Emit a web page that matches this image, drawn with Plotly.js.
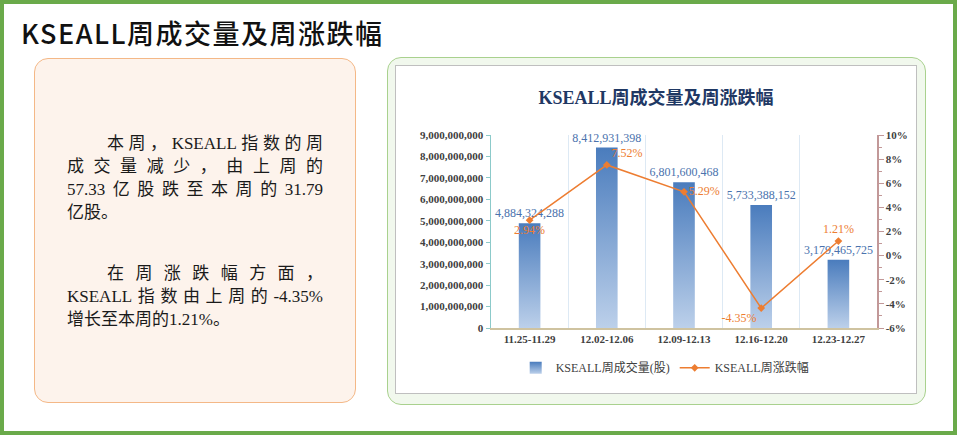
<!DOCTYPE html>
<html>
<head>
<meta charset="utf-8">
<script src="https://cdn.plot.ly/plotly-3.0.1.min.js"></script>
<style>
  html, body { margin: 0; padding: 0; background: #ffffff; }
  body { width: 960px; height: 437px; position: relative; overflow: hidden; }
  #frame { position: absolute; left: 0; top: 0; width: 957px; height: 435px; box-sizing: border-box; border: 4px solid #6aaa4a; }
  #mainTitle { position: absolute; left: 21px; top: 16px; font-family: "Noto Sans CJK SC", sans-serif; font-size: 27px; font-weight: 500; color: #111; line-height: 34px; letter-spacing: 1.5px; white-space: nowrap; }
  #leftPanel { position: absolute; left: 34px; top: 58px; width: 322px; height: 345px; box-sizing: border-box; border: 1.5px solid #f4b887; border-radius: 14px; background: #fdf3ec; }
  .para { position: absolute; left: 32px; width: 256px; font-family: "Liberation Serif", "Noto Sans CJK SC", serif; font-size: 17px; color: #1a1a1a; line-height: 23px; }
  .ln { white-space: nowrap; text-align: justify; text-align-last: justify; }
  .ln.last { text-align-last: left; }
  .ln.ind { padding-left: 40px; }
  #rightPanel { position: absolute; left: 387px; top: 57px; width: 539px; height: 348px; box-sizing: border-box; border: 1.5px solid #a9d18e; border-radius: 14px; background: #f1f8ed; }
  #chartBox { position: absolute; left: 395px; top: 65px; width: 522px; height: 329px; box-sizing: border-box; border: 1px solid #bfbfbf; background: #ffffff; }
  #chart { position: absolute; left: 0; top: 0; width: 520px; height: 327px; }
</style>
</head>
<body>
<div id="frame"></div>
<div id="mainTitle">KSEALL周成交量及周涨跌幅</div>
<div id="leftPanel">
  <div class="para" style="top:73px;">
    <div class="ln ind">本周，KSEALL指数的周</div>
    <div class="ln">成交量减少，由上周的</div>
    <div class="ln">57.33亿股跌至本周的31.79</div>
    <div class="ln last">亿股。</div>
  </div>
  <div class="para" style="top:203px;">
    <div class="ln ind">在周涨跌幅方面，</div>
    <div class="ln">KSEALL指数由上周的-4.35%</div>
    <div class="ln last">增长至本周的1.21%。</div>
  </div>
</div>
<div id="rightPanel"></div>
<div id="chartBox"><div id="chart"></div></div>
<script>
// ---- data ----
const weeks = ["11.25-11.29", "12.02-12.06", "12.09-12.13", "12.16-12.20", "12.23-12.27"];
const volume = [4884324288, 8412931398, 6801600468, 5733388152, 3179465725];
const changePct = [2.94, 7.52, 5.29, -4.35, 1.21];
const volumeName = "KSEALL周成交量(股)";
const changeName = "KSEALL周涨跌幅";
const chartTitle = "KSEALL周成交量及周涨跌幅";
const leftTicks = [0, 1e9, 2e9, 3e9, 4e9, 5e9, 6e9, 7e9, 8e9, 9e9];
const rightTicks = [-6, -4, -2, 0, 2, 4, 6, 8, 10];
const rightTickText = ["-6%", "-4%", "-2%", "0%", "2%", "4%", "6%", "8%", "10%"];

const serif = '"Liberation Serif", "Noto Sans CJK SC", serif';

const traces = [
  {
    type: 'bar', name: volumeName, x: weeks, y: volume,
    width: 0.28,
    marker: { color: '#7096cc', line: { width: 0 } },
    texttemplate: '%{y:,}', textposition: 'outside', constraintext: 'none',
    textfont: { family: serif, size: 12, color: '#4a72ad' },
    cliponaxis: false, hoverinfo: 'skip'
  },
  {
    type: 'scatter', name: changeName, x: weeks, y: changePct, yaxis: 'y2',
    mode: 'lines+markers+text',
    line: { color: '#ed7d31', width: 1.5 },
    marker: { color: '#ed7d31', symbol: 'diamond', size: 6 },
    texttemplate: '%{y:.2f}%',
    textposition: ['bottom center', 'top right', 'middle right', 'bottom left', 'top center'],
    textfont: { family: serif, size: 12, color: '#ed7d31' },
    cliponaxis: false, hoverinfo: 'skip'
  }
];

const layout = {
  width: 520, height: 327,
  margin: { l: 95, r: 39, t: 69, b: 64, pad: 0 },
  paper_bgcolor: 'rgba(0,0,0,0)', plot_bgcolor: 'rgba(0,0,0,0)',
  showlegend: true,
  title: { text: chartTitle, x: 0.5, xref: 'container', xanchor: 'center', y: 0.902, yref: 'container', yanchor: 'middle',
           font: { family: serif, size: 18, color: '#1f3864', weight: 'bold' } },
  xaxis: {
    type: 'category', showline: true, linecolor: '#cfc3a0', linewidth: 1.5,
    showgrid: true, gridcolor: '#dde9f4', gridwidth: 1, tickson: 'boundaries', ticks: '',
    tickfont: { family: serif, size: 11, color: '#404040', weight: 'bold' },
    fixedrange: true
  },
  yaxis: {
    range: [0, 9e9], tickvals: leftTicks, tickformat: ',',
    showline: true, linecolor: '#8ccaca', linewidth: 1.5,
    ticks: 'outside', ticklen: 4, tickcolor: '#8ccaca',
    showgrid: false, zeroline: false,
    tickfont: { family: serif, size: 11, color: '#404040', weight: 'bold' },
    fixedrange: true
  },
  yaxis2: {
    overlaying: 'y', side: 'right', range: [-6, 10], tickmode: 'array', tickvals: rightTicks, ticktext: rightTickText,
    showline: true, linecolor: '#c29898', linewidth: 1.5,
    ticks: 'outside', ticklen: 5, tickcolor: '#c29898',
    minor: { dtick: 1, ticks: 'outside', ticklen: 3, tickcolor: '#c29898' },
    showgrid: false, zeroline: false,
    tickfont: { family: serif, size: 11, color: '#404040', weight: 'bold' },
    fixedrange: true
  },
  legend: {
    orientation: 'h', x: 0.45, xanchor: 'center', y: -0.2, yanchor: 'middle',
    font: { family: serif, size: 12, color: '#404040' },
    bgcolor: 'rgba(0,0,0,0)'
  }
};

Plotly.newPlot('chart', traces, layout, { staticPlot: true, displayModeBar: false }).then(function (gd) {
  const svgNS = 'http://www.w3.org/2000/svg';
  const svg = gd.querySelector('svg.main-svg');
  let defs = svg.querySelector('defs');
  if (!defs) { defs = document.createElementNS(svgNS, 'defs'); svg.insertBefore(defs, svg.firstChild); }
  const grad = document.createElementNS(svgNS, 'linearGradient');
  grad.setAttribute('id', 'barGrad');
  grad.setAttribute('x1', '0'); grad.setAttribute('y1', '0');
  grad.setAttribute('x2', '0'); grad.setAttribute('y2', '1');
  [['0', '#4a7cbd'], ['1', '#bcd0ea']].forEach(function (s) {
    const st = document.createElementNS(svgNS, 'stop');
    st.setAttribute('offset', s[0]); st.setAttribute('stop-color', s[1]);
    grad.appendChild(st);
  });
  defs.appendChild(grad);
  gd.querySelectorAll('.barlayer .point path').forEach(function (p) { p.style.fill = 'url(#barGrad)'; });
  gd.querySelectorAll('.legend .traces:first-child .legendpoints path').forEach(function (p) { p.style.fill = 'url(#barGrad)'; });
});
</script>
</body>
</html>
